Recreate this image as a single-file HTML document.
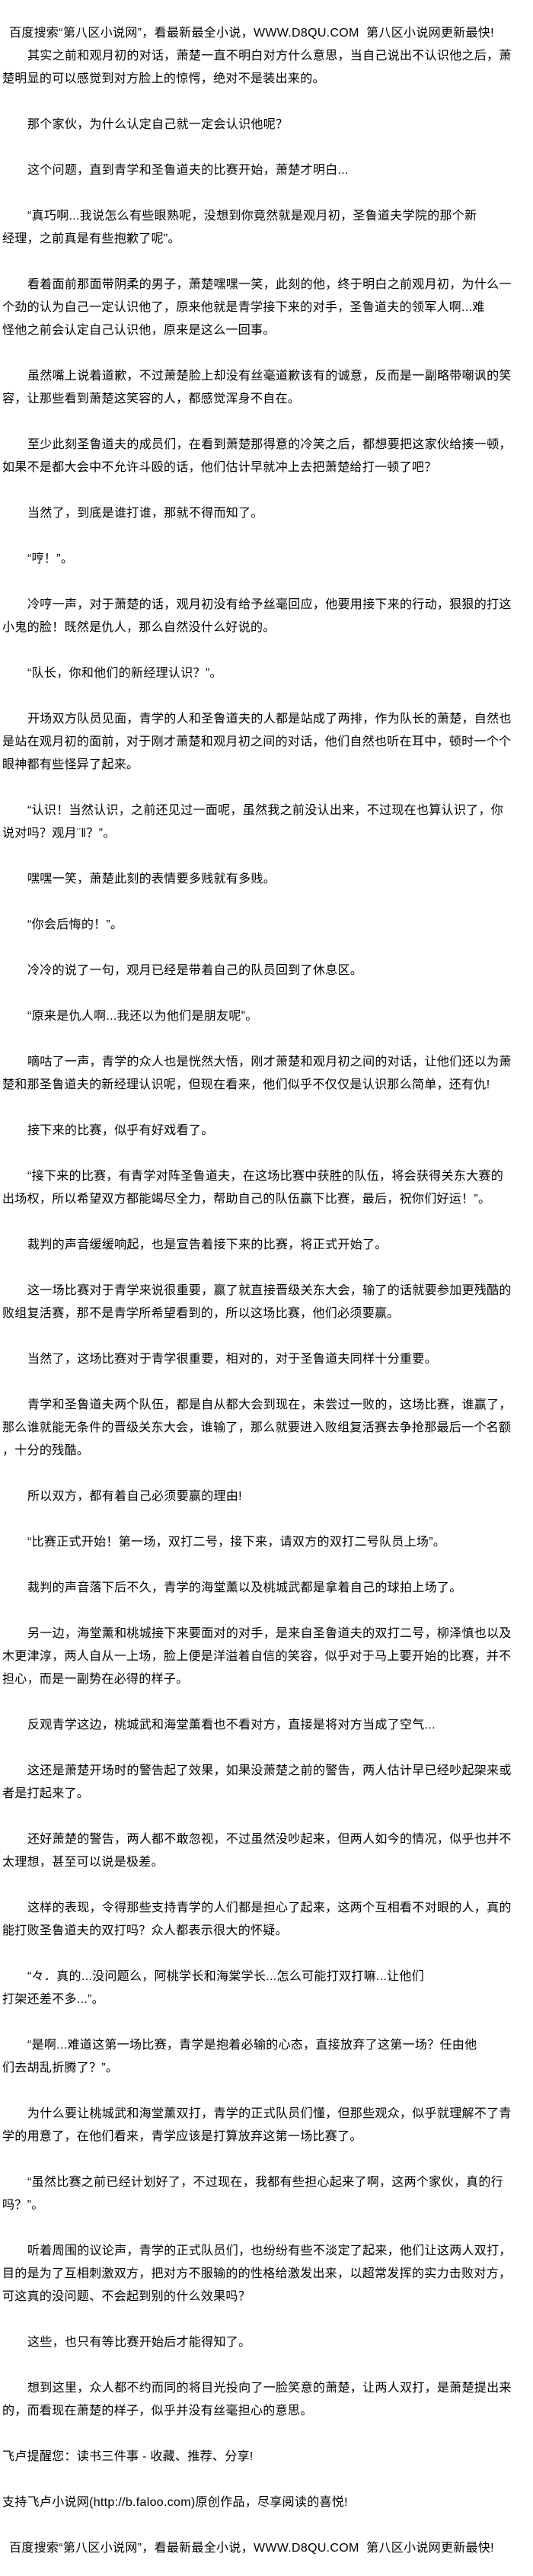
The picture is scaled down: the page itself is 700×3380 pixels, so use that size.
<!DOCTYPE html>
<html><head><meta charset="utf-8">
<style>
html,body{margin:0;padding:0;background:#fff;}
body{width:700px;height:3380px;overflow:hidden;padding-top:29px;box-sizing:border-box;
font-family:"Liberation Sans","Noto Sans CJK SC",sans-serif;font-size:16px;line-height:30px;color:#000;}
.l{white-space:nowrap;height:30px;padding-left:3px;letter-spacing:0.3px;}
.i{padding-left:36px;}
.h{padding-left:12px;}
.b{height:30px;}
</style></head><body>
<div class="l h">百度搜索“第八区小说网”，看最新最全小说，WWW.D8QU.COM&nbsp;&nbsp;第八区小说网更新最快!</div>
<div class="l i">其实之前和观月初的对话，萧楚一直不明白对方什么意思，当自己说出不认识他之后，萧</div>
<div class="l">楚明显的可以感觉到对方脸上的惊愕，绝对不是装出来的。</div>
<div class="b"></div>
<div class="l i">那个家伙，为什么认定自己就一定会认识他呢？</div>
<div class="b"></div>
<div class="l i">这个问题，直到青学和圣鲁道夫的比赛开始，萧楚才明白...</div>
<div class="b"></div>
<div class="l i">“真巧啊...我说怎么有些眼熟呢，没想到你竟然就是观月初，圣鲁道夫学院的那个新</div>
<div class="l">经理，之前真是有些抱歉了呢”。</div>
<div class="b"></div>
<div class="l i">看着面前那面带阴柔的男子，萧楚嘿嘿一笑，此刻的他，终于明白之前观月初，为什么一</div>
<div class="l">个劲的认为自己一定认识他了，原来他就是青学接下来的对手，圣鲁道夫的领军人啊...难</div>
<div class="l">怪他之前会认定自己认识他，原来是这么一回事。</div>
<div class="b"></div>
<div class="l i">虽然嘴上说着道歉，不过萧楚脸上却没有丝毫道歉该有的诚意，反而是一副略带嘲讽的笑</div>
<div class="l">容，让那些看到萧楚这笑容的人，都感觉浑身不自在。</div>
<div class="b"></div>
<div class="l i">至少此刻圣鲁道夫的成员们，在看到萧楚那得意的冷笑之后，都想要把这家伙给揍一顿，</div>
<div class="l">如果不是都大会中不允许斗殴的话，他们估计早就冲上去把萧楚给打一顿了吧？</div>
<div class="b"></div>
<div class="l i">当然了，到底是谁打谁，那就不得而知了。</div>
<div class="b"></div>
<div class="l i">“哼！”。</div>
<div class="b"></div>
<div class="l i">冷哼一声，对于萧楚的话，观月初没有给予丝毫回应，他要用接下来的行动，狠狠的打这</div>
<div class="l">小鬼的脸！既然是仇人，那么自然没什么好说的。</div>
<div class="b"></div>
<div class="l i">“队长，你和他们的新经理认识？”。</div>
<div class="b"></div>
<div class="l i">开场双方队员见面，青学的人和圣鲁道夫的人都是站成了两排，作为队长的萧楚，自然也</div>
<div class="l">是站在观月初的面前，对于刚才萧楚和观月初之间的对话，他们自然也听在耳中，顿时一个个</div>
<div class="l">眼神都有些怪异了起来。</div>
<div class="b"></div>
<div class="l i">“认识！当然认识，之前还见过一面呢，虽然我之前没认出来，不过现在也算认识了，你</div>
<div class="l">说对吗？观月¨‖？”。</div>
<div class="b"></div>
<div class="l i">嘿嘿一笑，萧楚此刻的表情要多贱就有多贱。</div>
<div class="b"></div>
<div class="l i">“你会后悔的！”。</div>
<div class="b"></div>
<div class="l i">冷冷的说了一句，观月已经是带着自己的队员回到了休息区。</div>
<div class="b"></div>
<div class="l i">“原来是仇人啊...我还以为他们是朋友呢”。</div>
<div class="b"></div>
<div class="l i">嘀咕了一声，青学的众人也是恍然大悟，刚才萧楚和观月初之间的对话，让他们还以为萧</div>
<div class="l">楚和那圣鲁道夫的新经理认识呢，但现在看来，他们似乎不仅仅是认识那么简单，还有仇!</div>
<div class="b"></div>
<div class="l i">接下来的比赛，似乎有好戏看了。</div>
<div class="b"></div>
<div class="l i">“接下来的比赛，有青学对阵圣鲁道夫，在这场比赛中获胜的队伍，将会获得关东大赛的</div>
<div class="l">出场权，所以希望双方都能竭尽全力，帮助自己的队伍赢下比赛，最后，祝你们好运！”。</div>
<div class="b"></div>
<div class="l i">裁判的声音缓缓响起，也是宣告着接下来的比赛，将正式开始了。</div>
<div class="b"></div>
<div class="l i">这一场比赛对于青学来说很重要，赢了就直接晋级关东大会，输了的话就要参加更残酷的</div>
<div class="l">败组复活赛，那不是青学所希望看到的，所以这场比赛，他们必须要赢。</div>
<div class="b"></div>
<div class="l i">当然了，这场比赛对于青学很重要，相对的，对于圣鲁道夫同样十分重要。</div>
<div class="b"></div>
<div class="l i">青学和圣鲁道夫两个队伍，都是自从都大会到现在，未尝过一败的，这场比赛，谁赢了，</div>
<div class="l">那么谁就能无条件的晋级关东大会，谁输了，那么就要进入败组复活赛去争抢那最后一个名额</div>
<div class="l">，十分的残酷。</div>
<div class="b"></div>
<div class="l i">所以双方，都有着自己必须要赢的理由!</div>
<div class="b"></div>
<div class="l i">“比赛正式开始！第一场，双打二号，接下来，请双方的双打二号队员上场”。</div>
<div class="b"></div>
<div class="l i">裁判的声音落下后不久，青学的海堂薰以及桃城武都是拿着自己的球拍上场了。</div>
<div class="b"></div>
<div class="l i">另一边，海堂薰和桃城接下来要面对的对手，是来自圣鲁道夫的双打二号，柳泽慎也以及</div>
<div class="l">木更津淳，两人自从一上场，脸上便是洋溢着自信的笑容，似乎对于马上要开始的比赛，并不</div>
<div class="l">担心，而是一副势在必得的样子。</div>
<div class="b"></div>
<div class="l i">反观青学这边，桃城武和海堂薰看也不看对方，直接是将对方当成了空气...</div>
<div class="b"></div>
<div class="l i">这还是萧楚开场时的警告起了效果，如果没萧楚之前的警告，两人估计早已经吵起架来或</div>
<div class="l">者是打起来了。</div>
<div class="b"></div>
<div class="l i">还好萧楚的警告，两人都不敢忽视，不过虽然没吵起来，但两人如今的情况，似乎也并不</div>
<div class="l">太理想，甚至可以说是极差。</div>
<div class="b"></div>
<div class="l i">这样的表现，令得那些支持青学的人们都是担心了起来，这两个互相看不对眼的人，真的</div>
<div class="l">能打败圣鲁道夫的双打吗？众人都表示很大的怀疑。</div>
<div class="b"></div>
<div class="l i">“々．真的...没问题么，阿桃学长和海棠学长...怎么可能打双打嘛...让他们</div>
<div class="l">打架还差不多...”。</div>
<div class="b"></div>
<div class="l i">“是啊...难道这第一场比赛，青学是抱着必输的心态，直接放弃了这第一场？任由他</div>
<div class="l">们去胡乱折腾了？”。</div>
<div class="b"></div>
<div class="l i">为什么要让桃城武和海堂薰双打，青学的正式队员们懂，但那些观众，似乎就理解不了青</div>
<div class="l">学的用意了，在他们看来，青学应该是打算放弃这第一场比赛了。</div>
<div class="b"></div>
<div class="l i">“虽然比赛之前已经计划好了，不过现在，我都有些担心起来了啊，这两个家伙，真的行</div>
<div class="l">吗？”。</div>
<div class="b"></div>
<div class="l i">听着周围的议论声，青学的正式队员们，也纷纷有些不淡定了起来，他们让这两人双打，</div>
<div class="l">目的是为了互相刺激双方，把对方不服输的的性格给激发出来，以超常发挥的实力击败对方，</div>
<div class="l">可这真的没问题、不会起到别的什么效果吗？</div>
<div class="b"></div>
<div class="l i">这些，也只有等比赛开始后才能得知了。</div>
<div class="b"></div>
<div class="l i">想到这里，众人都不约而同的将目光投向了一脸笑意的萧楚，让两人双打，是萧楚提出来</div>
<div class="l">的，而看现在萧楚的样子，似乎并没有丝毫担心的意思。</div>
<div class="b"></div>
<div class="l">飞卢提醒您：读书三件事 - 收藏、推荐、分享!</div>
<div class="b"></div>
<div class="l">支持飞卢小说网(http://b.faloo.com)原创作品，尽享阅读的喜悦!</div>
<div class="b"></div>
<div class="l h">百度搜索“第八区小说网”，看最新最全小说，WWW.D8QU.COM&nbsp;&nbsp;第八区小说网更新最快!</div>
</body></html>
